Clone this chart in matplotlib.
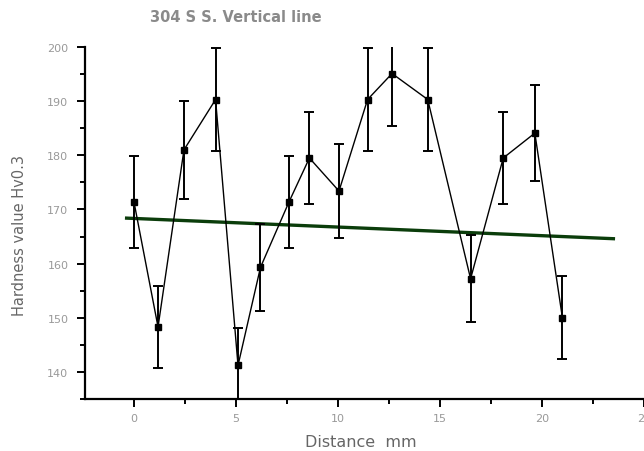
import matplotlib
matplotlib.use("Agg")
import matplotlib.pyplot as plt
from matplotlib.ticker import MultipleLocator

# hardness profile along the vertical line
distance = [0, 1.18, 2.45, 4.0, 5.1, 6.2, 7.6, 8.6, 10.05, 11.45, 12.65, 14.4, 16.5, 18.1, 19.65, 21.0]
hardness = [171.4, 148.3, 181.0, 190.3, 141.2, 159.3, 171.4, 179.5, 173.4, 190.3, 195.1, 190.3, 157.2, 179.5, 184.1, 150.0]
error = [8.5, 7.5, 9.0, 9.5, 7.0, 8.0, 8.5, 8.5, 8.6, 9.5, 9.6, 9.5, 8.0, 8.5, 8.9, 7.7]

# linear trend line
trend_x = [-0.36, 23.5]
trend_y = [168.4, 164.6]

fig = plt.figure(figsize=(6.44, 4.52), dpi=100)
ax = fig.add_axes([85 / 644, 1 - 400 / 452, 1 - 85 / 644, (400 - 48) / 452])

ax.plot(trend_x, trend_y, color="#0b3d0b", lw=2.4, zorder=2)
ax.errorbar(distance, hardness, yerr=error, fmt="s-", color="black",
            ms=4.5, lw=1.0, elinewidth=1.4, capsize=3.5, capthick=1.4, zorder=3)

ax.set_xlim(-2.4, 25.0)
ax.set_ylim(135, 200)

ax.spines["top"].set_visible(False)
ax.spines["right"].set_visible(False)
ax.spines["left"].set_linewidth(1.6)
ax.spines["bottom"].set_linewidth(1.6)

ax.xaxis.set_major_locator(MultipleLocator(5))
ax.xaxis.set_minor_locator(MultipleLocator(2.5))
ax.yaxis.set_minor_locator(MultipleLocator(5))
ax.set_yticks([140, 150, 160, 170, 180, 190, 200])

ax.tick_params(axis="both", which="major", direction="out", length=6, width=1.4,
               labelsize=8, labelcolor="#999999")
ax.tick_params(axis="both", which="minor", direction="out", length=3.5, width=1.4)
ax.tick_params(axis="y", which="major", pad=6)
ax.tick_params(axis="x", which="major", pad=4)

fig.text(150 / 644, 1 - 18 / 452, "304 S S. Vertical line", fontsize=10.5, fontweight="bold",
         color="#8a8a8a", ha="left", va="center")
fig.text(361 / 644, 1 - 443 / 452, "Distance  mm", fontsize=11.5, color="#666666",
         ha="center", va="center")
fig.text(20 / 644, 1 - 236 / 452, "Hardness value Hv0.3", fontsize=10.5, color="#666666",
         ha="center", va="center", rotation=90)

fig.savefig("out.png", dpi=100)
